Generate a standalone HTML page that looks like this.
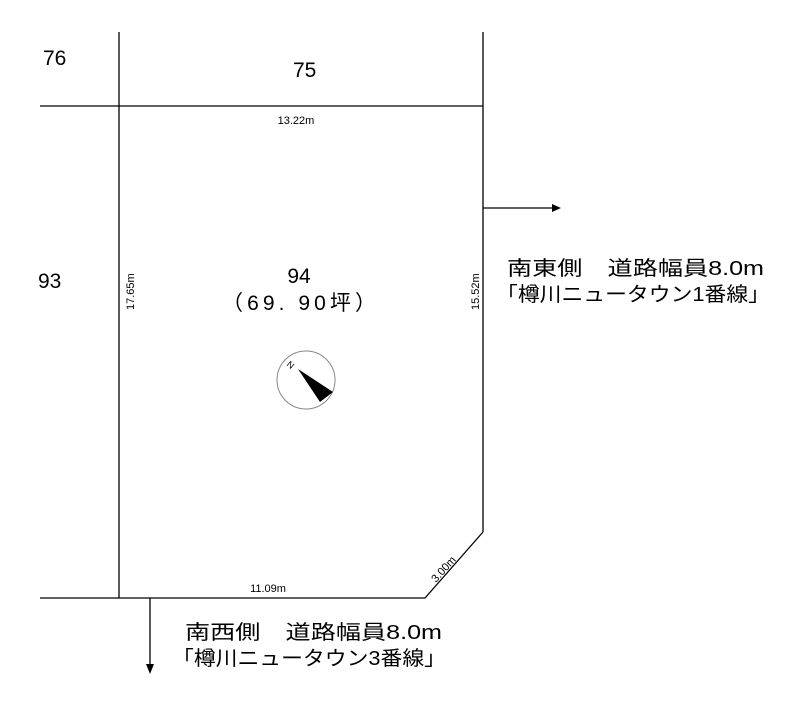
<!DOCTYPE html>
<html><head><meta charset="utf-8"><style>
body{margin:0;background:#fff}
svg text{font-family:"Liberation Sans","Noto Sans CJK JP",sans-serif;fill:#000}
</style></head><body>
<svg width="800" height="705" viewBox="0 0 800 705" xmlns="http://www.w3.org/2000/svg">
<g stroke="#000" stroke-width="1.3" fill="none">
<line x1="119" y1="32" x2="119" y2="598"/>
<line x1="483" y1="32" x2="483" y2="532"/>
<line x1="40" y1="106" x2="483" y2="106"/>
<polyline points="40,598 425,598 483,532"/>
<line x1="483" y1="208" x2="552" y2="208"/>
<line x1="150" y1="598" x2="150" y2="665"/>
</g>
<polygon points="552,204 561,208 552,212" fill="#000"/>
<polygon points="146,664 150,674 154,664" fill="#000"/>
<circle cx="306" cy="380" r="29" fill="none" stroke="#888" stroke-width="1"/>
<polygon points="298,369 333,392 320,402" fill="#000"/>
<text x="288" y="368" font-size="9" transform="rotate(40 291 364)">N</text>
<text x="43" y="65" font-size="21">76</text>
<text x="293" y="77" font-size="21">75</text>
<text x="38" y="288" font-size="21">93</text>
<text x="299" y="283" font-size="21" text-anchor="middle">94</text>
<text x="222" y="310" font-size="21" textLength="154" lengthAdjust="spacing">（69. 90坪）</text>
<text x="296" y="124" font-size="11" text-anchor="middle">13.22m</text>
<text x="268" y="592" font-size="11" text-anchor="middle">11.09m</text>
<text x="0" y="0" font-size="11" transform="translate(134 310) rotate(-90)">17.65m</text>
<text x="0" y="0" font-size="11" transform="translate(479 310) rotate(-90)">15.52m</text>
<text x="0" y="0" font-size="11" transform="translate(436 583) rotate(-48)">3.00m</text>
<text x="507" y="275" font-size="20" textLength="257" lengthAdjust="spacingAndGlyphs">南東側　道路幅員8.0m</text>
<text x="496" y="301" font-size="20" textLength="274" lengthAdjust="spacingAndGlyphs">「樽川ニュータウン1番線」</text>
<text x="185" y="639" font-size="20" textLength="257" lengthAdjust="spacingAndGlyphs">南西側　道路幅員8.0m</text>
<text x="172" y="665" font-size="20" textLength="274" lengthAdjust="spacingAndGlyphs">「樽川ニュータウン3番線」</text>
</svg>
</body></html>
